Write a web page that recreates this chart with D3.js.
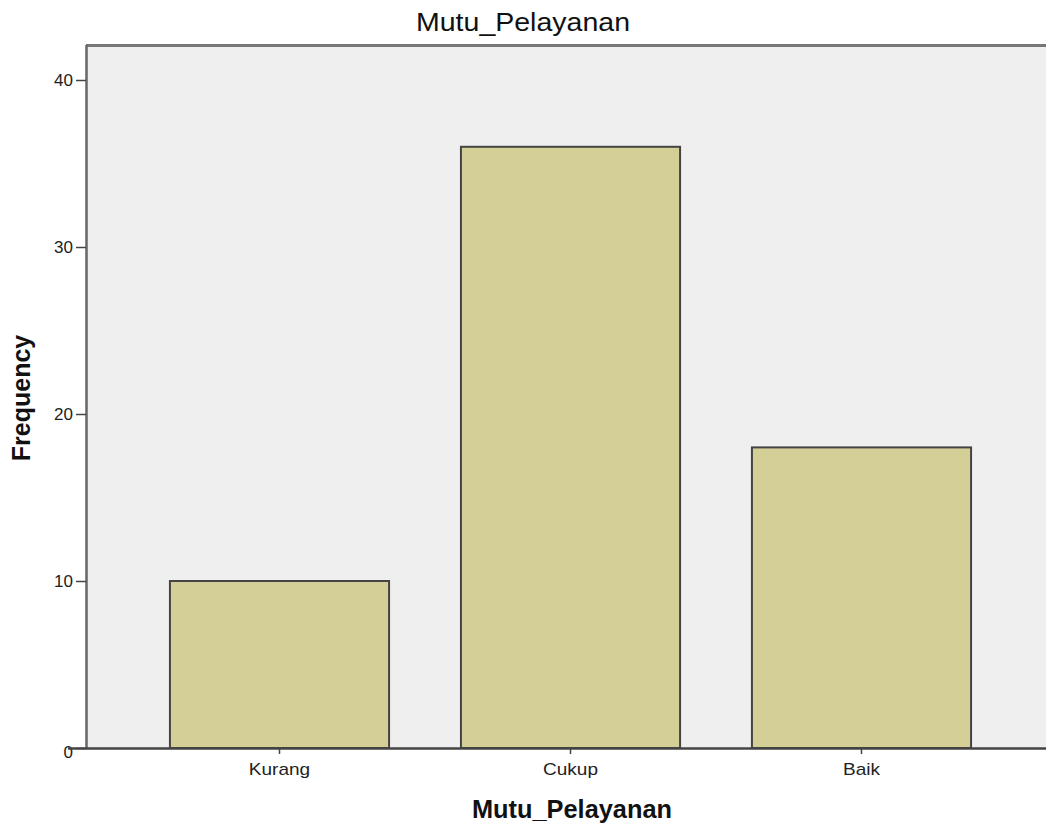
<!DOCTYPE html>
<html><head><meta charset="utf-8">
<script src="https://cdn.jsdelivr.net/npm/d3@7"></script>
<style>body{margin:0;background:#fff}svg{display:block}text{font-family:Arial,"Liberation Sans",sans-serif}</style>
</head><body>
<svg id="c" width="1046" height="831"></svg>
<script>
const categories = ["Kurang", "Cukup", "Baik"];
const frequencies = [10, 36, 18];
const yTicks = [0, 10, 20, 30, 40];
const chartTitle = "Mutu_Pelayanan";
const xTitle = "Mutu_Pelayanan";
const yTitle = "Frequency";

const svg = d3.select("#c");
const pLeft = 86, pTop = 45, pRight = 1046, pBottom = 748;

const x = d3.scaleBand().domain(categories).range([134, 1007]).paddingInner(0.247).paddingOuter(0.1235);
const y = d3.scaleLinear().domain([0, 40]).range([pBottom, 80]);

svg.append("rect").attr("x", pLeft).attr("y", pTop).attr("width", pRight - pLeft).attr("height", pBottom - pTop).attr("fill", "#efefef");
svg.append("line").attr("x1", pLeft).attr("x2", pRight).attr("y1", pTop + 0.5).attr("y2", pTop + 0.5).attr("stroke", "#777").attr("stroke-width", 3);

svg.selectAll("rect.bar").data(frequencies).enter().append("rect").attr("class", "bar")
  .attr("x", (d, i) => x(categories[i]))
  .attr("y", d => y(d))
  .attr("width", x.bandwidth())
  .attr("height", d => pBottom - y(d))
  .attr("fill", "#d3cf97").attr("stroke", "#444").attr("stroke-width", 2);

const yAxis = svg.append("g").attr("transform", `translate(${pLeft},0)`)
  .call(d3.axisLeft(y).tickValues(yTicks).tickSize(10).tickPadding(3));
yAxis.select(".domain").attr("d", `M0.5,${pTop}V${pBottom}`).attr("stroke", "#666").attr("stroke-width", 2.5);
yAxis.selectAll(".tick line").attr("stroke", "#444").attr("stroke-width", 1.5);
yAxis.selectAll(".tick text").attr("font-size", 17).attr("fill", "#222");
yAxis.selectAll(".tick").filter(d => d === 0).select("text").attr("dy", "0.55em");

const xAxis = svg.append("g").attr("transform", `translate(0,${pBottom})`)
  .call(d3.axisBottom(x).tickSize(6).tickPadding(9).tickSizeOuter(0));
xAxis.select(".domain").attr("d", `M${pLeft - 18},0.5H${pRight}`).attr("stroke", "#444").attr("stroke-width", 2.5);
xAxis.selectAll(".tick line").attr("stroke", "#444").attr("stroke-width", 1.5);
xAxis.selectAll(".tick text").attr("font-size", 17).attr("fill", "#222").attr("transform", "scale(1.12,1)")
  .attr("x", function() { return 0; });

svg.append("text").attr("x", 523).attr("y", 31).attr("text-anchor", "middle").attr("font-size", 25)
  .attr("textLength", 214).attr("lengthAdjust", "spacingAndGlyphs").attr("fill", "#111").text(chartTitle);
svg.append("text").attr("x", 572).attr("y", 818).attr("text-anchor", "middle").attr("font-size", 25).attr("font-weight", "bold")
  .attr("textLength", 200).attr("lengthAdjust", "spacingAndGlyphs").attr("fill", "#111").text(xTitle);
svg.append("text").attr("transform", "translate(30,398) rotate(-90)").attr("text-anchor", "middle").attr("font-size", 25).attr("font-weight", "bold").attr("fill", "#111").text(yTitle);
</script>
</body></html>
